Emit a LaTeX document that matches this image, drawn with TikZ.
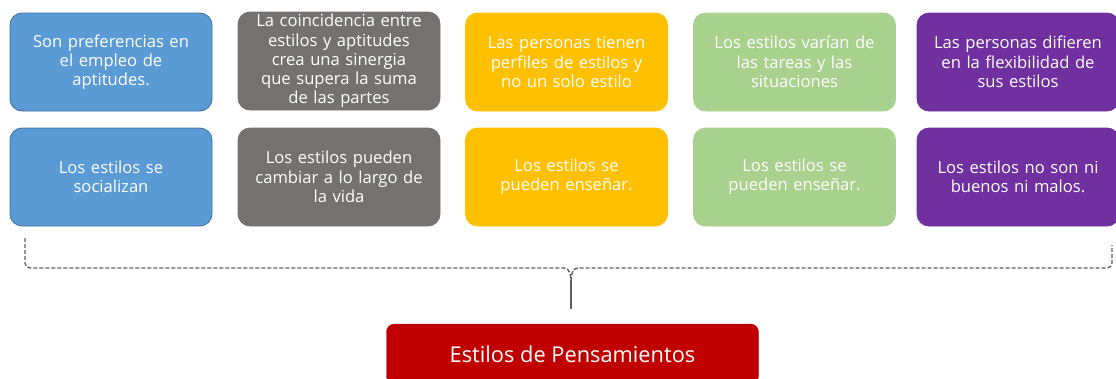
\documentclass[tikz,border=0pt]{standalone}
\usepackage{fontspec}
\setmainfont{Open Sans}
\begin{document}
\begin{tikzpicture}[x=1pt,y=-1pt,
  card/.style={rounded corners=12pt, minimum width=202pt, minimum height=98pt,
    text width=200pt, align=center, text=white, inner sep=0pt,
    font=\fontsize{16.6}{19.3}\selectfont, line width=0.8pt},
  cblue/.style={card, fill=blue1, draw=blue2},
  cgray/.style={card, fill=gray1, draw=gray1},
  cyel/.style={card, fill=yel1, draw=yel1},
  cgreen/.style={card, fill=green1, draw=green1},
  cpurp/.style={card, fill=purp1, draw=purp1},
  brace/.style={draw=gray2, line width=1.4pt, dash pattern=on 4pt off 2pt},
  link/.style={draw=gray2, line width=1.6pt}
]
\definecolor{blue1}{HTML}{5B9BD5}
\definecolor{blue2}{HTML}{41719C}
\definecolor{gray1}{HTML}{767171}
\definecolor{yel1}{HTML}{FFC000}
\definecolor{green1}{HTML}{A9D18E}
\definecolor{purp1}{HTML}{7030A0}
\definecolor{red1}{HTML}{C00000}
\definecolor{gray2}{HTML}{5F5F5F}
\useasboundingbox (0,0) rectangle (1116,378);

\node[cblue]  (a1) at (111,62)  {Son preferencias en\\el empleo de\\aptitudes.};
\node[cgray]  (b1) at (339,61)  {La coincidencia entre\\estilos y aptitudes\\crea una sinergia\\que supera la suma\\de las partes};
\node[cyel]   (c1) at (566.5,62) {Las personas tienen\\perfiles de estilos y\\no un solo estilo};
\node[cgreen] (d1) at (794.5,62) {Los estilos varían de\\las tareas y las\\situaciones};
\node[cpurp]  (e1) at (1018,62) {Las personas difieren\\en la flexibilidad de\\sus estilos};

\node[cblue]  (a2) at (111,177)  {Los estilos se\\socializan};
\node[cgray]  (b2) at (339,177)  {Los estilos pueden\\cambiar a lo largo de\\la vida};
\node[cyel]   (c2) at (566.5,177) {Los estilos se\\pueden enseñar.};
\node[cgreen] (d2) at (794.5,177) {Los estilos se\\pueden enseñar.};
\node[cpurp]  (e2) at (1018,177) {Los estilos no son ni\\buenos ni malos.};

\node[rounded corners=8pt, fill=red1, draw=red1, minimum width=372pt, minimum height=60pt,
  text=white, font=\fontsize{21.8}{24}\selectfont, inner sep=0pt] (main) at (572.5,354) {Estilos de Pensamientos};

\coordinate (bl) at (25,238);
\coordinate (br) at (1112,245);
\coordinate (tip) at (571,281);
\path[brace] (bl) -- (25,263) to[out=-90,in=180] (30,268) -- (564,268)
  to[out=0,in=90] (tip);
\path[brace] (tip) to[out=90,in=180] (578,268) -- (1107,268) to[out=0,in=-90] (1112,263) -- (br);
\draw[link] (tip) -- ([yshift=15pt]main.north -| tip);
\end{tikzpicture}
\end{document}
